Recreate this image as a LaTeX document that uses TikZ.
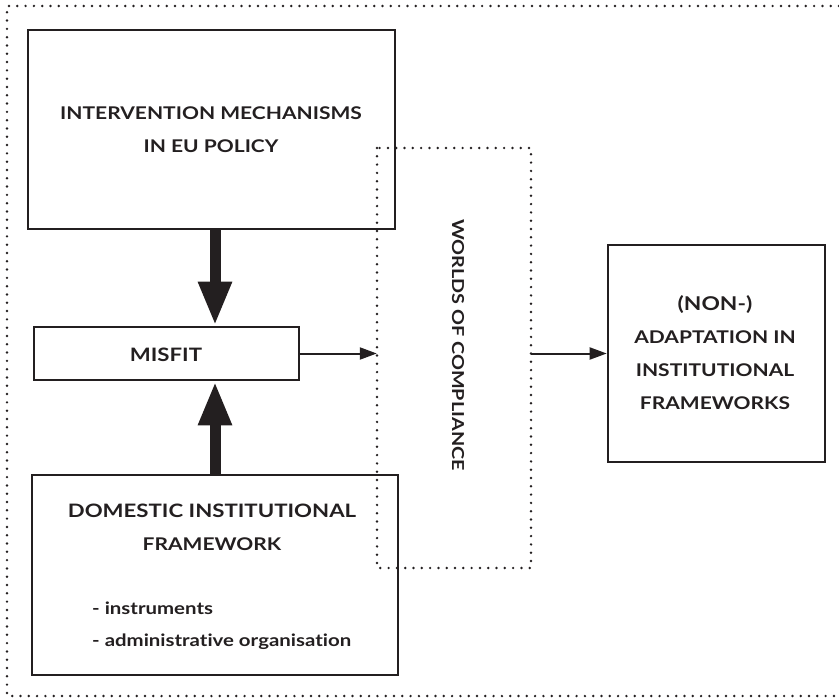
\documentclass[tikz,border=0pt]{standalone}
\usepackage{fontspec}
\setmainfont{Lato}[FakeStretch=1.2,Ligatures={NoCommon}]
\usetikzlibrary{arrows.meta,calc}
\definecolor{ink}{HTML}{231F20}
\begin{document}
\begin{tikzpicture}[x=1pt,y=-1pt,
  box/.style={draw=ink,line width=2.6pt,rectangle,inner sep=0pt,text=ink},
  dotline/.style={draw=ink,line width=2.7pt,line cap=round,dash pattern=on 0pt off 8.3pt},
  label/.style={text=ink,font=\bfseries\fontsize{17.5}{33}\selectfont,align=center,inner sep=0pt},
  small/.style={text=ink,font=\bfseries\fontsize{17}{32}\selectfont,align=left,inner sep=0pt,anchor=west},
  bigarrow/.style={draw=ink,line width=11pt,-{Triangle[length=44pt,width=31pt]}},
  thinarrow/.style={draw=ink,line width=2pt,-{Triangle[length=17pt,width=12pt]}}]
\useasboundingbox (0,0) rectangle (839,698);

% outer frame, open on the right
\draw[dotline] (839,6) -- (7,6) -- (7,696) -- (839,696);

% main boxes
\node[box,minimum width=367pt,minimum height=199pt] (mech) at (211.5,129.5) {};
\node[label] (mechtext) at (211,129.5) {INTERVENTION MECHANISMS\\IN EU POLICY};

\node[box,minimum width=265pt,minimum height=53pt] (misfit) at (166.5,353.5) {};
\node[label] (misfittext) at (166,355) {\fontsize{18.5}{30}\selectfont MISFIT};

\node[box,minimum width=366pt,minimum height=200pt] (dom) at (215,575) {};
\node[label] (domtext) at (212,527) {\fontsize{18.5}{30}\selectfont DOMESTIC INSTITUTIONAL\\FRAMEWORK};
\node[small] (items) at (92,626) {- instruments\\- administrative organisation};

% worlds of compliance (dotted frame)
\draw[dotline] (377,148) rectangle (531,568);
\node[minimum width=154pt,minimum height=420pt,inner sep=0pt] (worlds) at (454,358) {};
\node[label,rotate=-90] (worldstext) at (458,345) {\fontsize{16.5}{30}\selectfont WORLDS OF COMPLIANCE};

\node[box,minimum width=217pt,minimum height=217pt] (result) at (716.5,353.5) {};
\node[label] (resulttext) at (715,352.5) {\fontsize{19}{29.6}\selectfont (NON-)\\ADAPTATION IN\\INSTITUTIONAL\\FRAMEWORKS};

% connectors
\coordinate (ax) at (215,0);
\draw[bigarrow] (mech.south -| ax) -- (misfit.north -| ax);
\draw[bigarrow] (dom.north -| ax) -- (misfit.south -| ax);
\draw[thinarrow] (misfit.east) -- (worlds.west |- misfit.east);
\draw[thinarrow] (worlds.east |- misfit.east) -- (result.west);
\end{tikzpicture}
\end{document}
